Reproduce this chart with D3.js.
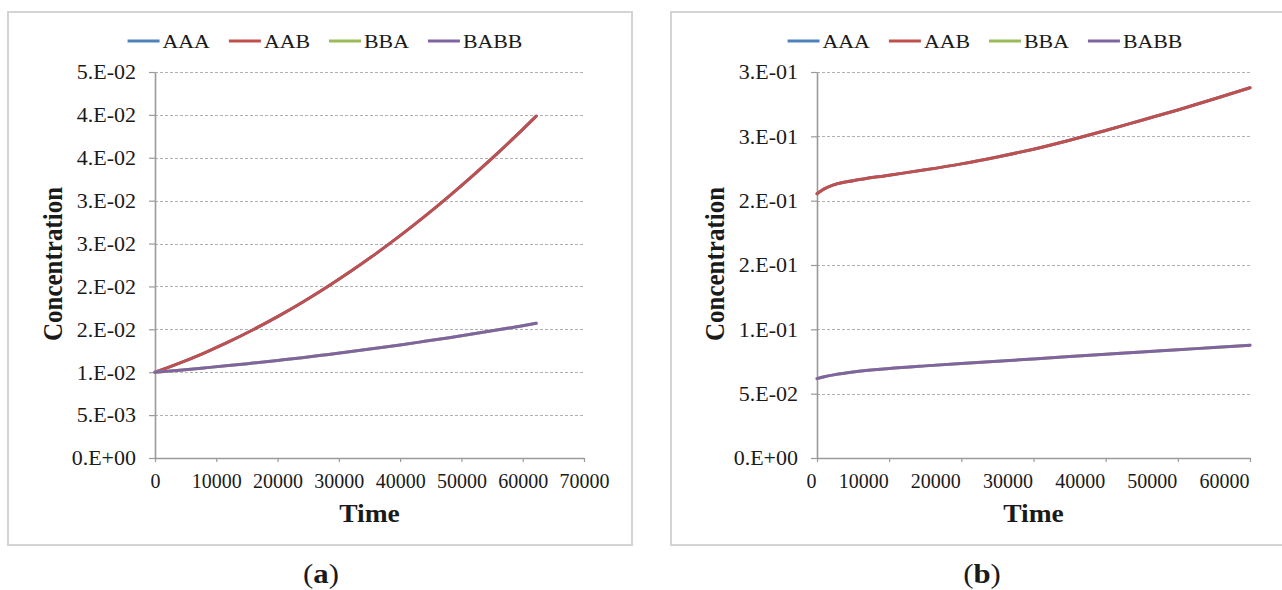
<!DOCTYPE html>
<html><head><meta charset="utf-8">
<script src="https://cdn.jsdelivr.net/npm/d3@7"></script>
<style>
body{margin:0;background:#fff}
svg{display:block}
text{font-family:"Liberation Serif","Times New Roman",serif;fill:#1a1a1a}
</style>
</head><body>
<svg id="c" width="1282" height="590"></svg>
<script>
// ---------- data ----------
const seriesNames = ["AAA", "AAB", "BBA", "BABB"];
const seriesColors = ["#4F81BD", "#C0504D", "#9BBB59", "#8064A2"];

// panel (a)
const timeA = [0, 4000, 8000, 12000, 16000, 20000, 24000, 28000, 32000, 36000, 40000, 44000, 48000, 52000, 56000, 60000, 62200];
const aaaA  = [0.01000, 0.01106, 0.01224, 0.01353, 0.01495, 0.01648, 0.01813, 0.01990, 0.02179, 0.02380, 0.02592, 0.02816, 0.03053, 0.03301, 0.03560, 0.03832, 0.03985];
const aabA  = [0.01000, 0.01106, 0.01224, 0.01353, 0.01495, 0.01648, 0.01813, 0.01990, 0.02179, 0.02380, 0.02592, 0.02816, 0.03053, 0.03301, 0.03560, 0.03832, 0.03985];
const bbaA  = [0.01000, 0.01024, 0.01050, 0.01077, 0.01107, 0.01138, 0.01170, 0.01205, 0.01241, 0.01279, 0.01318, 0.01360, 0.01403, 0.01448, 0.01494, 0.01542, 0.01570];
const babbA = [0.01000, 0.01024, 0.01050, 0.01077, 0.01107, 0.01138, 0.01170, 0.01205, 0.01241, 0.01279, 0.01318, 0.01360, 0.01403, 0.01448, 0.01494, 0.01542, 0.01570];
const xTicksA = [0, 10000, 20000, 30000, 40000, 50000, 60000, 70000];
const yTicksA = [0, 0.005, 0.010, 0.015, 0.020, 0.025, 0.030, 0.035, 0.040, 0.045];
const yTickLabelsA = ["0.E+00", "5.E-03", "1.E-02", "2.E-02", "2.E-02", "3.E-02", "3.E-02", "4.E-02", "4.E-02", "5.E-02"];

// panel (b)
const timeB = [0, 1000, 2500, 5000, 10000, 15000, 20000, 25000, 30000, 35000, 40000, 45000, 50000, 55000, 60000];
const aaaB  = [0.2054, 0.2092, 0.2126, 0.2155, 0.2198, 0.2240, 0.2286, 0.2340, 0.2400, 0.2470, 0.2545, 0.2625, 0.2705, 0.2790, 0.2878];
const aabB  = [0.2054, 0.2092, 0.2126, 0.2155, 0.2198, 0.2240, 0.2286, 0.2340, 0.2400, 0.2470, 0.2545, 0.2625, 0.2705, 0.2790, 0.2878];
const bbaB  = [0.0617, 0.0632, 0.0648, 0.0668, 0.0695, 0.0716, 0.0735, 0.0752, 0.0770, 0.0788, 0.0806, 0.0823, 0.0841, 0.0859, 0.0877];
const babbB = [0.0617, 0.0632, 0.0648, 0.0668, 0.0695, 0.0716, 0.0735, 0.0752, 0.0770, 0.0788, 0.0806, 0.0823, 0.0841, 0.0859, 0.0877];
const xTicksB = [0, 10000, 20000, 30000, 40000, 50000, 60000];
const yTicksB = [0, 0.05, 0.10, 0.15, 0.20, 0.25, 0.30];
const yTickLabelsB = ["0.E+00", "5.E-02", "1.E-01", "2.E-01", "2.E-01", "3.E-01", "3.E-01"];

const xTitle = "Time";
const yTitle = "Concentration";
const captions = ["a", "b"];

// ---------- drawing ----------
const svg = d3.select("#c");

function stretchText(sel, s) {
  sel.each(function () {
    const t = d3.select(this);
    const x = +t.attr("x") || 0;
    const y = +t.attr("y") || 0;
    t.attr("x", 0).attr("y", 0).attr("transform", `translate(${x},${y}) scale(${s},1)`);
  });
}

function panel(cfg) {
  const g = svg.append("g");
  // frame
  g.append("rect")
    .attr("x", cfg.frame[0]).attr("y", cfg.frame[1])
    .attr("width", cfg.frame[2] - cfg.frame[0]).attr("height", cfg.frame[3] - cfg.frame[1])
    .attr("fill", "#fff").attr("stroke", "#d4d4d4").attr("stroke-width", 2);

  const x = d3.scaleLinear().domain(cfg.xDomain).range([cfg.plot[0], cfg.plot[2]]);
  const y = d3.scaleLinear().domain(cfg.yDomain).range([cfg.plot[3], cfg.plot[1]]);

  // gridlines
  g.append("g").selectAll("line").data(cfg.yTicks.filter(d => d > 0)).join("line")
    .attr("x1", cfg.plot[0]).attr("x2", cfg.plot[2])
    .attr("y1", d => Math.round(y(d)) + 0.5).attr("y2", d => Math.round(y(d)) + 0.5)
    .attr("stroke", "#b0b0b0").attr("stroke-width", 1).attr("stroke-dasharray", "3,2");

  // y axis
  const ya = g.append("g").attr("transform", `translate(${cfg.plot[0]},0)`)
    .call(d3.axisLeft(y).tickValues(cfg.yTicks).tickSize(6).tickSizeOuter(0)
      .tickFormat((d, i) => cfg.yLabels[i]));
  ya.select(".domain").attr("stroke", "#9a9a9a").attr("stroke-width", 1.6);
  ya.selectAll(".tick line").attr("stroke", "#9a9a9a").attr("stroke-width", 1.2);
  ya.selectAll(".tick text").attr("font-size", 20).attr("font-family", null)
    .attr("x", -19).attr("dy", "0.34em").attr("fill", "#1a1a1a");
  stretchText(ya.selectAll(".tick text"), 1.1);

  // x axis
  const xa = g.append("g").attr("transform", `translate(0,${cfg.plot[3]})`)
    .call(d3.axisBottom(x).tickValues(cfg.xTicks).tickSize(4).tickSizeOuter(0).tickFormat(d3.format("d")));
  xa.select(".domain").attr("stroke", "#9a9a9a").attr("stroke-width", 1.6);
  xa.selectAll(".tick line").attr("stroke", "#9a9a9a").attr("stroke-width", 1.2);
  xa.selectAll(".tick text").attr("font-size", 20).attr("font-family", null)
    .attr("y", 30).attr("dy", null).attr("fill", "#1a1a1a")
    .attr("text-anchor", cfg.xLabelAnchor).attr("x", cfg.xLabelAnchor === "end" ? -1 : 0);

  // lines
  const line = d3.line().x(d => x(d[0])).y(d => y(d[1])).curve(d3.curveMonotoneX);
  cfg.series.forEach((vals, i) => {
    g.append("path").datum(cfg.time.map((t, j) => [t, vals[j]]))
      .attr("d", line).attr("fill", "none")
      .attr("stroke", seriesColors[i]).attr("stroke-width", 3)
      .attr("stroke-linejoin", "round").attr("stroke-linecap", "round");
  });

  // legend
  const lg = g.append("g");
  const lineLen = 32, gap = 3, itemGap = 19, ls = 1.15, lfs = 19;
  const items = seriesNames.map((n, i) => {
    const it = lg.append("g");
    it.append("line").attr("x1", 0).attr("x2", lineLen).attr("y1", 0).attr("y2", 0)
      .attr("stroke", seriesColors[i]).attr("stroke-width", 3);
    const t = it.append("text").text(n).attr("font-size", lfs)
      .attr("transform", `translate(${lineLen + gap},6.5) scale(${ls},1)`);
    const w = lineLen + gap + t.node().getComputedTextLength() * ls;
    return { it, w };
  });
  const total = d3.sum(items, d => d.w) + itemGap * (items.length - 1);
  let cx = cfg.legendCenter - total / 2;
  items.forEach(d => { d.it.attr("transform", `translate(${cx},${cfg.legendY})`); cx += d.w + itemGap; });

  // axis titles
  g.append("text").text(xTitle).attr("font-size", 25).attr("font-weight", "bold")
    .attr("text-anchor", "middle").attr("fill", "#111")
    .attr("transform", `translate(${(cfg.plot[0] + cfg.plot[2]) / 2},522) scale(1.1,1)`);
  g.append("text").text(yTitle).attr("font-size", 25).attr("font-weight", "bold")
    .attr("text-anchor", "middle").attr("fill", "#111")
    .attr("transform", `translate(${cfg.plot[0] - 93},${(cfg.plot[1] + cfg.plot[3]) / 2 - 1}) scale(1.1,1) rotate(-90)`);

  // caption
  const cap = g.append("text").attr("font-size", 28).attr("text-anchor", "middle").attr("fill", "#000")
    .attr("transform", `translate(${cfg.captionX},583) scale(1.1,1)`);
  cap.append("tspan").text("(");
  cap.append("tspan").attr("font-weight", "bold").text(cfg.caption);
  cap.append("tspan").text(")");
}

panel({
  frame: [8, 12, 632, 545],
  plot: [155, 72, 584, 458],
  xDomain: [0, 70000], yDomain: [0, 0.045],
  xTicks: xTicksA, yTicks: yTicksA, yLabels: yTickLabelsA,
  xLabelAnchor: "middle",
  time: timeA, series: [aaaA, aabA, bbaA, babbA],
  legendCenter: 325, legendY: 41,
  captionX: 321, caption: captions[0]
});

panel({
  frame: [671, 12, 1300, 545],
  plot: [817, 72, 1250, 458],
  xDomain: [0, 60000], yDomain: [0, 0.3],
  xTicks: xTicksB, yTicks: yTicksB, yLabels: yTickLabelsB,
  xLabelAnchor: "end",
  time: timeB, series: [aaaB, aabB, bbaB, babbB],
  legendCenter: 985, legendY: 41,
  captionX: 982, caption: captions[1]
});
</script>
</body></html>
